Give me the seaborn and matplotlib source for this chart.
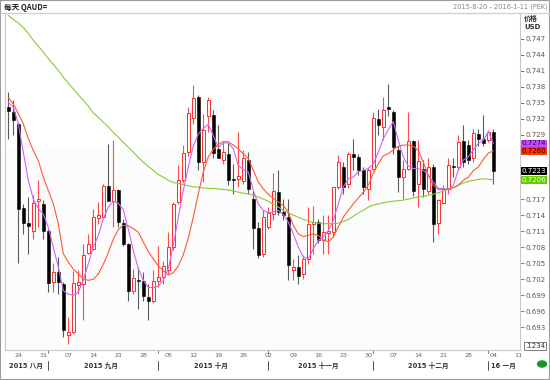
"""AUD/USD 日线K线图（带三条均线）复刻"""

import numpy as np
import pandas as pd
import matplotlib
matplotlib.use('Agg')
import matplotlib.pyplot as plt
import matplotlib.transforms as mtransforms
import seaborn as sns

# ---------------- 数据 ----------------
# 交易日：2015-08-20 ~ 2016-01-04（坐标轴延伸至 2016-01-11）
dates = pd.bdate_range('2015-08-20', '2016-01-04')
axis_dates = pd.bdate_range('2015-08-20', '2016-01-11')

open_px = [
    0.7343, 0.7333, 0.7311, 0.7153, 0.7125, 0.7111, 0.7166, 0.7160, 0.7111, 0.7014,
    0.7033, 0.7012, 0.6915, 0.6921, 0.7010, 0.7011, 0.7069, 0.7077, 0.7135, 0.7136,
    0.7195, 0.7166, 0.7187, 0.7125, 0.7086, 0.6999, 0.7018, 0.7017, 0.6987, 0.6979,
    0.7017, 0.7024, 0.7038, 0.7080, 0.7165, 0.7205, 0.7258, 0.7321, 0.7361, 0.7239,
    0.7326, 0.7327, 0.7264, 0.7243, 0.7255, 0.7207, 0.7208, 0.7204, 0.7243, 0.7171,
    0.7115, 0.7068, 0.7118, 0.7143, 0.7183, 0.7146, 0.7136, 0.7037, 0.7043, 0.7029,
    0.7058, 0.7123, 0.7127, 0.7093, 0.7107, 0.7108, 0.7193, 0.7230, 0.7199, 0.7254,
    0.7248, 0.7224, 0.7189, 0.7227, 0.7319, 0.7305, 0.7342, 0.7333, 0.7262, 0.7211,
    0.7227, 0.7279, 0.7199, 0.7227, 0.7186, 0.7230, 0.7125, 0.7163, 0.7189, 0.7231,
    0.7230, 0.7279, 0.7272, 0.7246, 0.7292, 0.7283, 0.7281, 0.7296]
high_px = [
    0.7370, 0.7355, 0.7314, 0.7160, 0.7174, 0.7177, 0.7205, 0.7169, 0.7114, 0.7050,
    0.7061, 0.7015, 0.6949, 0.7036, 0.7037, 0.7086, 0.7105, 0.7152, 0.7164, 0.7199,
    0.7273, 0.7280, 0.7189, 0.7133, 0.7088, 0.7039, 0.7043, 0.7033, 0.7011, 0.7037,
    0.7083, 0.7055, 0.7108, 0.7164, 0.7233, 0.7271, 0.7342, 0.7383, 0.7364, 0.7330,
    0.7361, 0.7336, 0.7308, 0.7277, 0.7274, 0.7236, 0.7296, 0.7261, 0.7258, 0.7186,
    0.7127, 0.7149, 0.7155, 0.7218, 0.7224, 0.7171, 0.7171, 0.7058, 0.7065, 0.7065,
    0.7155, 0.7158, 0.7133, 0.7140, 0.7140, 0.7193, 0.7252, 0.7239, 0.7258, 0.7283,
    0.7255, 0.7230, 0.7230, 0.7333, 0.7339, 0.7361, 0.7385, 0.7336, 0.7270, 0.7243,
    0.7333, 0.7280, 0.7280, 0.7243, 0.7246, 0.7235, 0.7171, 0.7196, 0.7247, 0.7247,
    0.7289, 0.7308, 0.7280, 0.7302, 0.7302, 0.7327, 0.7299, 0.7302]
low_px = [
    0.7283, 0.7289, 0.7050, 0.7105, 0.7068, 0.7096, 0.7117, 0.7096, 0.6996, 0.6996,
    0.6993, 0.6912, 0.6898, 0.6918, 0.6993, 0.6943, 0.7068, 0.7074, 0.7124, 0.7135,
    0.7167, 0.7117, 0.7117, 0.7083, 0.6980, 0.6993, 0.6965, 0.6980, 0.6943, 0.6975,
    0.7005, 0.7011, 0.7030, 0.7074, 0.7160, 0.7200, 0.7250, 0.7310, 0.7224, 0.7202,
    0.7296, 0.7246, 0.7246, 0.7236, 0.7196, 0.7180, 0.7193, 0.7199, 0.7180, 0.7077,
    0.7060, 0.7062, 0.7114, 0.7130, 0.7140, 0.7130, 0.7018, 0.7018, 0.7012, 0.7021,
    0.7049, 0.7068, 0.7088, 0.7068, 0.7068, 0.7099, 0.7189, 0.7180, 0.7190, 0.7224,
    0.7215, 0.7180, 0.7168, 0.7224, 0.7289, 0.7280, 0.7325, 0.7255, 0.7183, 0.7171,
    0.7224, 0.7175, 0.7155, 0.7174, 0.7180, 0.7090, 0.7105, 0.7160, 0.7180, 0.7211,
    0.7224, 0.7230, 0.7236, 0.7240, 0.7270, 0.7270, 0.7276, 0.7199]
close_px = [
    0.7335, 0.7318, 0.7152, 0.7125, 0.7119, 0.7163, 0.7170, 0.7110, 0.7013, 0.7033,
    0.7014, 0.6925, 0.6921, 0.7013, 0.7014, 0.7066, 0.7086, 0.7136, 0.7141, 0.7195,
    0.7167, 0.7187, 0.7127, 0.7086, 0.6998, 0.7022, 0.7016, 0.6988, 0.6980, 0.7017,
    0.7025, 0.7044, 0.7080, 0.7161, 0.7205, 0.7256, 0.7331, 0.7360, 0.7239, 0.7299,
    0.7355, 0.7256, 0.7247, 0.7258, 0.7206, 0.7205, 0.7213, 0.7246, 0.7188, 0.7115,
    0.7065, 0.7136, 0.7144, 0.7186, 0.7146, 0.7140, 0.7046, 0.7043, 0.7027, 0.7058,
    0.7124, 0.7127, 0.7094, 0.7108, 0.7110, 0.7193, 0.7239, 0.7193, 0.7254, 0.7248,
    0.7224, 0.7193, 0.7225, 0.7321, 0.7308, 0.7336, 0.7339, 0.7267, 0.7211, 0.7227,
    0.7279, 0.7185, 0.7241, 0.7189, 0.7230, 0.7124, 0.7169, 0.7189, 0.7233, 0.7230,
    0.7277, 0.7239, 0.7244, 0.7294, 0.7283, 0.7274, 0.7296, 0.7223]

# 均线（紫：短期，红：中期，绿：长期）
ma_purple = [
    0.7351, 0.7342, 0.7311, 0.7258, 0.7205, 0.7170, 0.7152, 0.7142, 0.7117, 0.7080,
    0.7043, 0.6999, 0.6992, 0.6990, 0.6996, 0.7018, 0.7049, 0.7080, 0.7102, 0.7133,
    0.7155, 0.7166, 0.7162, 0.7150, 0.7114, 0.7074, 0.7040, 0.7018, 0.7005, 0.7004,
    0.7007, 0.7018, 0.7040, 0.7083, 0.7136, 0.7186, 0.7230, 0.7269, 0.7292, 0.7302,
    0.7310, 0.7289, 0.7266, 0.7275, 0.7275, 0.7264, 0.7233, 0.7225, 0.7221, 0.7186,
    0.7161, 0.7149, 0.7144, 0.7146, 0.7149, 0.7141, 0.7127, 0.7105, 0.7080, 0.7062,
    0.7058, 0.7077, 0.7093, 0.7099, 0.7111, 0.7130, 0.7161, 0.7193, 0.7208, 0.7211,
    0.7221, 0.7224, 0.7227, 0.7236, 0.7258, 0.7283, 0.7300, 0.7315, 0.7280, 0.7249,
    0.7232, 0.7227, 0.7227, 0.7224, 0.7215, 0.7202, 0.7190, 0.7190, 0.7188, 0.7196,
    0.7224, 0.7243, 0.7249, 0.7262, 0.7274, 0.7280, 0.7296, 0.7274]
ma_red = [
    0.7360, 0.7348, 0.7330, 0.7311, 0.7283, 0.7261, 0.7242, 0.7211, 0.7186, 0.7161,
    0.7124, 0.7068, 0.7052, 0.7039, 0.7030, 0.7021, 0.7018, 0.7020, 0.7030, 0.7048,
    0.7070, 0.7095, 0.7113, 0.7121, 0.7120, 0.7115, 0.7108, 0.7090, 0.7072, 0.7058,
    0.7045, 0.7036, 0.7028, 0.7032, 0.7045, 0.7066, 0.7097, 0.7136, 0.7180, 0.7221,
    0.7249, 0.7263, 0.7272, 0.7278, 0.7277, 0.7271, 0.7264, 0.7255, 0.7246, 0.7224,
    0.7202, 0.7189, 0.7179, 0.7171, 0.7165, 0.7158, 0.7146, 0.7121, 0.7105, 0.7100,
    0.7102, 0.7105, 0.7102, 0.7094, 0.7090, 0.7099, 0.7118, 0.7136, 0.7149, 0.7161,
    0.7172, 0.7183, 0.7196, 0.7218, 0.7236, 0.7251, 0.7255, 0.7262, 0.7269, 0.7271,
    0.7271, 0.7269, 0.7261, 0.7239, 0.7214, 0.7196, 0.7188, 0.7188, 0.7189, 0.7191,
    0.7196, 0.7205, 0.7211, 0.7223, 0.7230, 0.7244, 0.7256, 0.7260]
ma_green = [
    0.7514, 0.7506, 0.7499, 0.7491, 0.7480, 0.7467, 0.7456, 0.7445, 0.7433, 0.7422,
    0.7411, 0.7398, 0.7387, 0.7376, 0.7365, 0.7355, 0.7344, 0.7331, 0.7323, 0.7314,
    0.7305, 0.7295, 0.7286, 0.7276, 0.7267, 0.7258, 0.7248, 0.7239, 0.7231, 0.7224,
    0.7216, 0.7211, 0.7205, 0.7201, 0.7199, 0.7197, 0.7195, 0.7193, 0.7192, 0.7191,
    0.7190, 0.7190, 0.7189, 0.7188, 0.7187, 0.7185, 0.7183, 0.7181, 0.7180, 0.7177,
    0.7174, 0.7170, 0.7166, 0.7160, 0.7155, 0.7149, 0.7144, 0.7140, 0.7136, 0.7132,
    0.7129, 0.7126, 0.7125, 0.7124, 0.7124, 0.7124, 0.7125, 0.7128, 0.7132, 0.7138,
    0.7144, 0.7149, 0.7155, 0.7159, 0.7161, 0.7163, 0.7165, 0.7166, 0.7167, 0.7168,
    0.7170, 0.7172, 0.7174, 0.7175, 0.7177, 0.7179, 0.7182, 0.7185, 0.7188, 0.7192,
    0.7196, 0.7200, 0.7203, 0.7205, 0.7207, 0.7208, 0.7207, 0.7206]

y_ticks = [0.693, 0.696, 0.699, 0.702, 0.705, 0.708, 0.711, 0.714, 0.717, 0.720,
           0.723, 0.726, 0.729, 0.732, 0.735, 0.738, 0.741, 0.744, 0.747]
# 被右侧价格标签盖住的刻度值
hidden_ticks = [0.720, 0.723, 0.726]
month_labels = ['2015 八月', '2015 九月', '2015 十月', '2015 十一月', '2015 十二月', '16 一月']

# 右侧价格标签：(文字, 数值, 底色, 字色)
price_tags = [
    ('0.7274', 0.7274, '#cc44ff', '#1a1a40'),
    ('0.7260', 0.7260, '#ff3300', '#2a0a00'),
    ('0.7223', 0.7223, '#000000', '#ffffff'),
    ('0.7206', 0.7206, '#66cc00', '#f4fff0'),
]

# ---------------- 样式 ----------------
sns.set_theme(style='white')
plt.rcParams['font.family'] = ['DejaVu Sans', 'Noto Sans CJK SC']
plt.rcParams['axes.unicode_minus'] = False

df = pd.DataFrame({'date': dates, 'open': open_px, 'high': high_px,
                   'low': low_px, 'close': close_px,
                   'ma_p': ma_purple, 'ma_r': ma_red, 'ma_g': ma_green})
df['x'] = np.arange(len(df))

fig = plt.figure(figsize=(5.5, 3.8), dpi=100)
fig.patch.set_facecolor('white')
ax = fig.add_axes([5 / 550, 30 / 380, 515 / 550, 337 / 380])
ax.set_facecolor('white')

ax.set_xlim(-0.66, 102.34)
ax.set_ylim(0.68877, 0.75181)

# 下半部分的极浅灰底
ax.axhspan(0.68, 0.7262, color='#fcfcfc', zorder=0, lw=0)

# ---------------- K线 ----------------
up = df['close'] >= df['open']
dn = ~up
body_lo = np.minimum(df['open'], df['close'])
body_h = np.maximum(np.abs(df['close'] - df['open']), 0.00006)

ax.vlines(df.loc[dn, 'x'], df.loc[dn, 'low'], df.loc[dn, 'high'],
          color='#5a5a5a', lw=0.8, zorder=2)
ax.vlines(df.loc[up, 'x'], df.loc[up, 'low'], df.loc[up, 'high'],
          color='#ff4a4a', lw=0.8, zorder=2)
ax.bar(df.loc[dn, 'x'], body_h[dn], bottom=body_lo[dn], width=0.62,
       color='black', edgecolor='black', lw=0.4, zorder=3)
ax.bar(df.loc[up, 'x'], body_h[up], bottom=body_lo[up], width=0.56,
       color='white', edgecolor='#ff2a2a', lw=0.7, zorder=3)

# ---------------- 均线 ----------------
sns.lineplot(data=df, x='x', y='ma_g', color='#88cc33', lw=0.8, ax=ax, zorder=4)
sns.lineplot(data=df, x='x', y='ma_r', color='#ff5a33', lw=0.8, ax=ax, zorder=4)
sns.lineplot(data=df, x='x', y='ma_p', color='#cc66ff', lw=0.8, ax=ax, zorder=4)

# ---------------- 坐标轴 ----------------
for side in ['left', 'top', 'bottom', 'right']:
    ax.spines[side].set_color('#c8c8c8')
    ax.spines[side].set_linewidth(0.8)

ax.yaxis.tick_right()
ax.set_yticks(y_ticks)
ax.set_yticklabels(['' if v in hidden_ticks else f'{v:.3f}' for v in y_ticks])
ax.tick_params(axis='y', which='both', right=True, length=3, width=0.6,
               color='#666666', labelsize=5, labelcolor='#555555', pad=1)

# 周一日期刻度
mondays = [i for i, d in enumerate(axis_dates) if d.weekday() == 0]
ax.set_xticks(mondays)
ax.set_xticklabels([axis_dates[i].strftime('%d') for i in mondays])
ax.tick_params(axis='x', length=0, labelsize=4.6, labelcolor='#666666', pad=2.5)
ax.set_xlabel('')
ax.set_ylabel('')

# 月份分隔与标签
trans = mtransforms.blended_transform_factory(ax.transData, ax.transAxes)
months = pd.Series(axis_dates.to_period('M'))
starts = [i for i in range(1, len(months)) if months[i] != months[i - 1]]
bounds = [0] + starts + [len(axis_dates)]
for k, lab in enumerate(month_labels):
    cx = (bounds[k] + bounds[k + 1] - 1) / 2
    ax.text(cx, -0.047, lab, transform=trans, ha='center', va='center',
            fontsize=4.8, fontweight='bold', color='#333333',
            family=['DejaVu Sans', 'Noto Sans CJK SC'])
for s in starts:
    ax.plot([s - 0.1, s - 0.1], [0, -0.01], transform=trans, color='#666666',
            lw=0.6, clip_on=False)
    ax.plot([s - 0.1, s - 0.1], [-0.034, -0.06], transform=trans, color='#333333',
            lw=0.6, clip_on=False)

# 价格标签
ytrans = ax.get_yaxis_transform()
for txt, val, bg, fg in price_tags:
    ax.text(1.003, val, txt, transform=ytrans, ha='left', va='center',
            fontsize=5, color=fg, zorder=10, clip_on=False,
            bbox=dict(boxstyle='square,pad=0.12', fc=bg, ec='none'))

# ---------------- 标题与附加元素 ----------------
fig.text(4 / 550, 1 - 7 / 380, '每天 QAUD=', ha='left', va='center', fontsize=5.5,
         fontweight='bold', color='#222222', family=['Noto Sans CJK SC', 'DejaVu Sans'])
fig.text(548 / 550, 1 - 7 / 380, '2015-8-20 - 2016-1-11 (PEK)', ha='right', va='center',
         fontsize=4.8, color='#888888')
fig.text(524 / 550, 1 - 18 / 380, '价格', ha='left', va='center', fontsize=5,
         fontweight='bold', color='#333333', family=['Noto Sans CJK SC', 'DejaVu Sans'])
fig.text(524 / 550, 1 - 27 / 380, 'USD', ha='left', va='center', fontsize=5,
         fontweight='bold', color='#333333')
fig.text(535 / 550, 1 - 346 / 380, '.1234', ha='center', va='center', fontsize=5,
         color='#333333', bbox=dict(boxstyle='square,pad=0.15', fc='white', ec='#666666', lw=0.6))
fig.patches.append(plt.Circle((542 / 550, 1 - 364 / 380), 0.008, transform=fig.transFigure,
                              color='#119922', figure=fig))

# 外框
fig.patches.append(plt.Rectangle((0, 0), 1, 1, transform=fig.transFigure, fill=False,
                                 ec='#9a9a9a', lw=1.5, figure=fig))
fig.lines.append(plt.Line2D([0, 1], [1 - 13 / 380, 1 - 13 / 380], transform=fig.transFigure,
                            color='#d0d0d0', lw=0.8, figure=fig))

fig.savefig('out.png', dpi=100)
plt.close(fig)
